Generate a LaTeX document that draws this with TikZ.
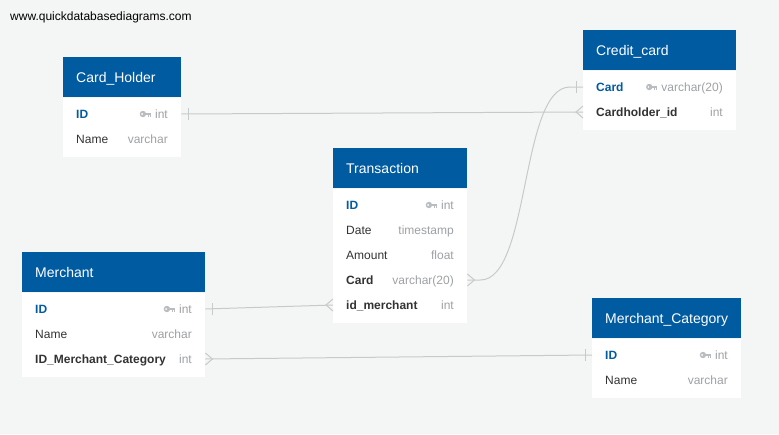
\documentclass[tikz,border=0pt]{standalone}
\usepackage{fontspec}
\setmainfont{Liberation Sans}
\usepackage{xcolor}
\definecolor{qdbBlue}{RGB}{0,91,161}
\definecolor{qdbBg}{RGB}{244,245,245}
\definecolor{qdbLine}{RGB}{200,201,202}
\definecolor{qdbText}{RGB}{51,51,51}
\definecolor{qdbType}{RGB}{158,161,165}
\definecolor{qdbKey}{RGB}{186,189,192}

\tikzset{
  dbhead/.style={fill=qdbBlue, text=white, anchor=north west, inner xsep=13pt, inner ysep=0pt,
    minimum height=40pt, text height=10pt, text depth=0pt, align=left, font=\fontsize{14}{16}\selectfont},
  dbbody/.style={fill=white, anchor=north west, inner sep=0pt},
  fld/.style={anchor=west, inner sep=0pt, text height=8.6pt, text depth=0pt, text=qdbText,
    font=\fontsize{12}{14}\selectfont},
  pk/.style={fld, text=qdbBlue, font=\fontsize{12}{14}\selectfont\bfseries},
  fk/.style={fld, font=\fontsize{12}{14}\selectfont\bfseries},
  ftype/.style={fld, anchor=east, text=qdbType},
  rel/.style={draw=qdbLine, line width=1pt},
  dbkey/.pic={
    \fill[qdbKey] (-8,0) circle (3.2pt);
    \fill[white] (-8.8,0) circle (0.9pt);
    \fill[qdbKey] (-6,-1.3) rectangle (0,1.3);
    \fill[qdbKey] (-3.2,1.3) rectangle (-1.8,3.2);
    \fill[qdbKey] (-1.2,1.3) rectangle (0,2.7);
  }
}

\begin{document}
\begin{tikzpicture}[x=1pt, y=-1pt]
  \fill[qdbBg] (0,0) rectangle (779,434);
  \node[fld, text=black] (wm) at (10,16) {www.quickdatabasediagrams.com};

  % Card_Holder
  \node[dbhead, text width=92pt] (chHead) at (63,57) {Card\_Holder};
  \node[dbbody, minimum width=118pt, minimum height=59pt] (chBody) at (chHead.south west) {};
  \node[pk] (chID) at (76,114) {ID};
  \node[ftype] (chIDt) at (168,114) {int};
  \pic at ([xshift=-4pt]chIDt.west) {dbkey};
  \node[fld] (chName) at (76,139) {Name};
  \node[ftype] (chNamet) at (168,139) {varchar};

  % Credit_card
  \node[dbhead, text width=127pt] (ccHead) at (583,30) {Credit\_card};
  \node[dbbody, minimum width=153pt, minimum height=59pt] (ccBody) at (ccHead.south west) {};
  \node[pk] (ccCard) at (596,87) {Card};
  \node[ftype] (ccCardt) at (723,87) {varchar(20)};
  \pic at ([xshift=-4pt]ccCardt.west) {dbkey};
  \node[fk] (ccHolder) at (596,112) {Cardholder\_id};
  \node[ftype] (ccHoldert) at (723,112) {int};

  % Transaction
  \node[dbhead, text width=108pt] (trHead) at (333,148) {Transaction};
  \node[dbbody, minimum width=134pt, minimum height=134pt] (trBody) at (trHead.south west) {};
  \node[pk] (trID) at (346,205) {ID};
  \node[ftype] (trIDt) at (454,205) {int};
  \pic at ([xshift=-4pt]trIDt.west) {dbkey};
  \node[fld] (trDate) at (346,230) {Date};
  \node[ftype] (trDatet) at (454,230) {timestamp};
  \node[fld] (trAmount) at (346,255) {Amount};
  \node[ftype] (trAmountt) at (454,255) {float};
  \node[fk] (trCard) at (346,280) {Card};
  \node[ftype] (trCardt) at (454,280) {varchar(20)};
  \node[fk] (trMerch) at (346,305) {id\_merchant};
  \node[ftype] (trMercht) at (454,305) {int};

  % Merchant
  \node[dbhead, text width=157pt] (meHead) at (22,252) {Merchant};
  \node[dbbody, minimum width=183pt, minimum height=84pt] (meBody) at (meHead.south west) {};
  \node[pk] (meID) at (35,309) {ID};
  \node[ftype] (meIDt) at (192,309) {int};
  \pic at ([xshift=-4pt]meIDt.west) {dbkey};
  \node[fld] (meName) at (35,334) {Name};
  \node[ftype] (meNamet) at (192,334) {varchar};
  \node[fk] (meCat) at (35,359) {ID\_Merchant\_Category};
  \node[ftype] (meCatt) at (192,359) {int};

  % Merchant_Category
  \node[dbhead, text width=123pt] (mcHead) at (592,298) {Merchant\_Category};
  \node[dbbody, minimum width=149pt, minimum height=59pt] (mcBody) at (mcHead.south west) {};
  \node[pk] (mcID) at (605,355) {ID};
  \node[ftype] (mcIDt) at (728,355) {int};
  \pic at ([xshift=-4pt]mcIDt.west) {dbkey};
  \node[fld] (mcName) at (605,380) {Name};
  \node[ftype] (mcNamet) at (728,380) {varchar};

  % relation ends
  \coordinate (chIDe) at (chBody.east |- chID);
  \coordinate (ccHolderw) at (ccBody.west |- ccHolder);
  \coordinate (ccCardw) at (ccBody.west |- ccCard);
  \coordinate (trCarde) at (trBody.east |- trCard);
  \coordinate (trMerchw) at (trBody.west |- trMerch);
  \coordinate (meIDe) at (meBody.east |- meID);
  \coordinate (meCate) at (meBody.east |- meCat);
  \coordinate (mcIDw) at (mcBody.west |- mcID);

  % Card_Holder -- Credit_card
  \draw[rel] (chIDe) -- (ccHolderw);
  \draw[rel] (chIDe) ++(7,-6) -- ++(0,12);
  \draw[rel] (ccHolderw) ++(0,-6) -- ++(-7,6) -- ++(7,6);
  % Transaction -- Credit_card
  \draw[rel] (trCarde) -- ++(13,0) .. controls +(50,0) and +(-50,0) .. ([xshift=-13pt]ccCardw) -- (ccCardw);
  \draw[rel] (trCarde) ++(0,-6) -- ++(7,6) -- ++(-7,6);
  \draw[rel] (ccCardw) ++(-7,-6) -- ++(0,12);
  % Merchant -- Transaction
  \draw[rel] (meIDe) -- (trMerchw);
  \draw[rel] (meIDe) ++(7,-6) -- ++(0,12);
  \draw[rel] (trMerchw) ++(0,-6) -- ++(-7,6) -- ++(7,6);
  % Merchant -- Merchant_Category
  \draw[rel] (meCate) -- (mcIDw);
  \draw[rel] (meCate) ++(0,-6) -- ++(7,6) -- ++(-7,6);
  \draw[rel] (mcIDw) ++(-7,-6) -- ++(0,12);
\end{tikzpicture}
\end{document}
